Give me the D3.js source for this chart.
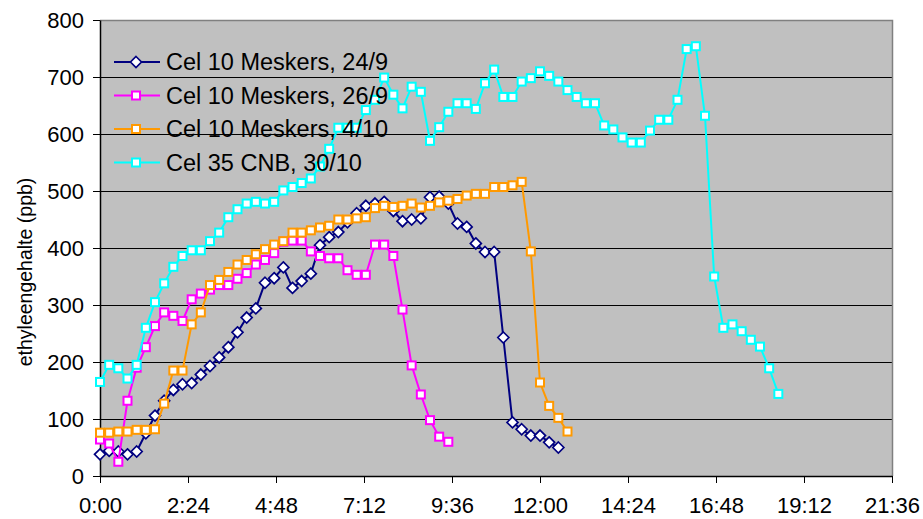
<!DOCTYPE html>
<html>
<head>
<meta charset="utf-8">
<script src="https://cdn.jsdelivr.net/npm/d3@7"></script>
<style>
  body { margin: 0; background: #fff; }
  text { font-family: "Liberation Sans", Arial, sans-serif; }
</style>
</head>
<body>
<div id="chart"></div>
<script>
const width = 923, height = 519
const margin = { top: 20, right: 31, bottom: 43, left: 100 }

// sample moments, minutes after start (one every quarter)
const sampleMinutes = [0, 15, 30, 45, 60, 75, 90, 105, 120, 135, 150, 165, 180, 195, 210, 225, 240, 255, 270, 285,
  300, 315, 330, 345, 360, 375, 390, 405, 420, 435, 450, 465, 480, 495, 510, 525, 540, 555, 570, 585,
  600, 615, 630, 645, 660, 675, 690, 705, 720, 735, 750, 765, 780, 795, 810, 825, 840, 855, 870, 885,
  900, 915, 930, 945, 960, 975, 990, 1005, 1020, 1035, 1050, 1065, 1080, 1095, 1110]

const seriesNames = ['Cel 10 Meskers, 24/9', 'Cel 10 Meskers, 26/9', 'Cel 10 Meskers, 4/10', 'Cel 35 CNB, 30/10']

const meskers249 = [38, 44, 43, 38, 43, 75, 106, 132, 151, 161, 163, 178, 193, 208, 226, 252, 278, 294, 339, 347,
  366, 330, 342, 355, 405, 419, 428, 445, 461, 474, 478, 481, 465, 447, 450, 452, 489, 490, 478, 443,
  437, 408, 393, 393, 243, 94, 82, 71, 71, 59, 50]
const meskers269 = [64, 57, 25, 132, 190, 226, 263, 287, 281, 272, 310, 320, 327, 335, 335, 346, 356, 371, 379, 391,
  411, 413, 413, 394, 386, 382, 382, 361, 353, 353, 406, 406, 386, 292, 194, 143, 98, 69, 60]
const meskers410 = [76, 76, 78, 78, 81, 81, 82, 127, 185, 185, 266, 287, 335, 344, 358, 371, 379, 389, 398, 406,
  412, 427, 427, 431, 436, 439, 450, 450, 452, 454, 470, 474, 472, 474, 478, 471, 474, 480, 483, 486,
  492, 495, 495, 507, 507, 510, 516, 394, 164, 123, 102, 78]
const cnb3010 = [165, 195, 189, 171, 195, 260, 305, 338, 367, 386, 396, 396, 412, 427, 454, 468, 478, 481, 478, 481,
  501, 507, 514, 522, 543, 574, 611, 611, 611, 642, 660, 699, 669, 645, 683, 674, 588, 612, 639, 654,
  654, 644, 689, 713, 665, 665, 692, 698, 710, 702, 692, 677, 665, 654, 654, 615, 608, 594, 585, 585,
  606, 625, 625, 660, 749, 754, 632, 350, 260, 266, 254, 239, 227, 189, 144]

const xTickMinutes = [0, 144, 288, 432, 576, 720, 864, 1008, 1152, 1296]
const xTickLabels = ['0:00', '2:24', '4:48', '7:12', '9:36', '12:00', '14:24', '16:48', '19:12', '21:36']
const yTicks = [0, 100, 200, 300, 400, 500, 600, 700, 800]

const series = [
  { name: seriesNames[0], values: meskers249, color: '#000080', marker: 'diamond' },
  { name: seriesNames[1], values: meskers269, color: '#ff00ff', marker: 'square' },
  { name: seriesNames[2], values: meskers410, color: '#ff9900', marker: 'square' },
  { name: seriesNames[3], values: cnb3010, color: '#00ffff', marker: 'square' },
]

const svg = d3.select('#chart')
  .append('svg')
  .attr('width', width)
  .attr('height', height)

const x = d3.scaleLinear()
  .domain([0, 1296])
  .range([margin.left, width - margin.right])

const y = d3.scaleLinear()
  .domain([0, 800])
  .range([height - margin.bottom, margin.top])

// plot area
svg.append('rect')
  .attr('x', x(0))
  .attr('y', y(800))
  .attr('width', x(1296) - x(0))
  .attr('height', y(0) - y(800))
  .attr('fill', '#c0c0c0')

svg.append('g')
  .selectAll('line')
  .data(yTicks.filter(d => d > 0 && d < 800))
  .join('line')
  .attr('x1', x(0))
  .attr('x2', x(1296))
  .attr('y1', d => y(d) + 0.5)
  .attr('y2', d => y(d) + 0.5)
  .attr('stroke', '#000')
  .attr('stroke-width', 1)

// gray frame top and right
svg.append('polyline')
  .attr('points', [[x(0), y(800) + 0.5], [x(1296) + 0.5, y(800) + 0.5], [x(1296) + 0.5, y(0)]])
  .attr('fill', 'none')
  .attr('stroke', '#808080')
  .attr('stroke-width', 1.5)

const xAxis = svg.append('g')
  .attr('transform', `translate(0,${y(0)})`)
  .call(d3.axisBottom(x)
    .tickValues(xTickMinutes)
    .tickFormat((d, i) => xTickLabels[i])
    .tickSize(7)
    .tickSizeOuter(0))
xAxis.select('.domain').attr('stroke', '#000').attr('stroke-width', 1.5)
xAxis.selectAll('.tick line').attr('stroke', '#000')
xAxis.selectAll('.tick text')
  .attr('y', 37)
  .attr('dy', 0)
  .attr('fill', '#000')
  .attr('font-size', 22)
  .attr('font-family', '"Liberation Sans", Arial, sans-serif')

const yAxis = svg.append('g')
  .attr('transform', `translate(${x(0)},0)`)
  .call(d3.axisLeft(y)
    .tickValues(yTicks)
    .tickSize(7)
    .tickPadding(9)
    .tickSizeOuter(0))
yAxis.select('.domain').attr('stroke', '#000').attr('stroke-width', 1.5)
yAxis.selectAll('.tick line').attr('stroke', '#000')
yAxis.selectAll('.tick text')
  .attr('fill', '#000')
  .attr('font-size', 22)
  .attr('font-family', '"Liberation Sans", Arial, sans-serif')

svg.append('text')
  .attr('transform', 'translate(25,272) rotate(-90)')
  .attr('text-anchor', 'middle')
  .attr('dy', '0.35em')
  .attr('font-size', 19.5)
  .text('ethyleengehalte (ppb)')

const line = d3.line()
  .x(d => x(d[0]))
  .y(d => y(d[1]))

const diamond = 'M0,-5.5L5.5,0L0,5.5L-5.5,0Z'

function drawMarker(g, s) {
  if (s.marker === 'diamond') {
    g.append('path')
      .attr('d', diamond)
      .attr('fill', '#fff')
      .attr('stroke', s.color)
      .attr('stroke-width', 1.7)
  } else {
    g.append('rect')
      .attr('x', -4).attr('y', -4)
      .attr('width', 8).attr('height', 8)
      .attr('fill', '#fff')
      .attr('stroke', s.color)
      .attr('stroke-width', 2)
  }
}

series.forEach(s => {
  const pts = s.values.map((v, i) => [sampleMinutes[i], v])
  const g = svg.append('g')
  g.append('path')
    .datum(pts)
    .attr('d', line)
    .attr('fill', 'none')
    .attr('stroke', s.color)
    .attr('stroke-width', 2)
  g.selectAll('g')
    .data(pts)
    .join('g')
    .attr('transform', d => `translate(${x(d[0])},${y(d[1])})`)
    .each(function () { drawMarker(d3.select(this), s) })
})

// legend, no box
const legend = svg.append('g')
const rowY = [62, 95.5, 129, 162.5]
series.forEach((s, i) => {
  const row = legend.append('g').attr('transform', `translate(0,${rowY[i]})`)
  row.append('line')
    .attr('x1', 114).attr('x2', 160)
    .attr('stroke', s.color)
    .attr('stroke-width', 2)
  const m = row.append('g').attr('transform', 'translate(136,0)')
  drawMarker(m, s)
  row.append('text')
    .attr('x', 166)
    .attr('dy', '0.36em')
    .attr('font-size', 23.5)
    .attr('fill', '#000')
    .text(s.name)
})
</script>
</body>
</html>
